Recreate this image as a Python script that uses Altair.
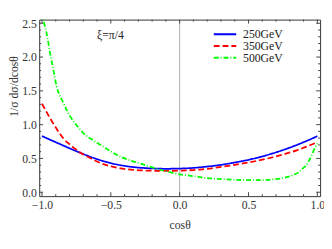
import altair as alt
import pandas as pd

# ---- data ----
series = ["250GeV", "350GeV", "500GeV"]
colors = ["#0000ff", "#ff0000", "#00ff00"]
dashes = [[1, 0], [6, 3], [5, 2, 1, 2]]

x_250 = [-1.0, -0.9, -0.8, -0.7, -0.6, -0.5, -0.4, -0.3, -0.2, -0.1, 0.0,
         0.1, 0.2, 0.3, 0.4, 0.5, 0.6, 0.7, 0.8, 0.9, 1.0]
y_250 = [0.83, 0.74, 0.65, 0.565, 0.49, 0.43, 0.39, 0.365, 0.352, 0.347, 0.35,
         0.36, 0.38, 0.405, 0.44, 0.48, 0.53, 0.59, 0.66, 0.74, 0.83]

x_350 = [-1.0, -0.97, -0.94, -0.894, -0.846, -0.8, -0.75, -0.7, -0.63, -0.56,
         -0.49, -0.418, -0.33, -0.23, -0.12, 0.0, 0.15, 0.35, 0.5, 0.7, 0.85, 1.0]
y_350 = [1.31, 1.20, 1.09, 0.94, 0.80, 0.71, 0.63, 0.56, 0.485, 0.42,
         0.38, 0.35, 0.33, 0.32, 0.315, 0.32, 0.335, 0.39, 0.44, 0.53, 0.62, 0.74]

x_500 = [-1.0, -0.993, -0.965, -0.94, -0.917, -0.894, -0.846, -0.8, -0.728, -0.7,
         -0.63, -0.56, -0.49, -0.418, -0.35, -0.277, -0.218, -0.1, 0.0, 0.113,
         0.2, 0.35, 0.5, 0.6, 0.68, 0.75, 0.82, 0.86, 0.894, 0.92, 0.94, 0.96,
         0.976, 1.0]
y_500 = [2.66, 2.58, 2.34, 2.05, 1.81, 1.57, 1.33, 1.14, 0.94, 0.875,
         0.77, 0.68, 0.59, 0.515, 0.465, 0.42, 0.38, 0.31, 0.265, 0.235,
         0.21, 0.19, 0.18, 0.18, 0.19, 0.21, 0.25, 0.29, 0.35, 0.40, 0.47, 0.55,
         0.63, 0.72]

x_major = [-1.0, -0.5, 0.0, 0.5, 1.0]
x_minor = [-0.9, -0.8, -0.7, -0.6, -0.4, -0.3, -0.2, -0.1,
           0.1, 0.2, 0.3, 0.4, 0.6, 0.7, 0.8, 0.9]
y_major = [0.0, 0.5, 1.0, 1.5, 2.0, 2.5]
y_minor = [0.1, 0.2, 0.3, 0.4, 0.6, 0.7, 0.8, 0.9, 1.1, 1.2, 1.3, 1.4,
           1.6, 1.7, 1.8, 1.9, 2.1, 2.2, 2.3, 2.4]

annot_x = [-0.503]
annot_y = [2.32]
annot_text = ["ξ=π/4"]

# ---- layout ----
W, H = 288, 181
X_DOM = [-1.02, 1.02]
Y_DOM = [-0.058, 2.554]
FONT = "Liberation Serif"
TXT = "#333333"

rows = []
for name, xs, ys in [(series[0], x_250, y_250), (series[1], x_350, y_350),
                     (series[2], x_500, y_500)]:
    for a, b in zip(xs, ys):
        rows.append({"c": a, "v": b, "s": name})
df = pd.DataFrame(rows)

xscale = alt.Scale(domain=X_DOM, nice=False, zero=False)
yscale = alt.Scale(domain=Y_DOM, nice=False, zero=False)

xaxis = alt.Axis(values=x_major, format=".1f", ticks=False, domain=False,
                 grid=False, labelFont=FONT, labelFontSize=12,
                 labelColor=TXT, labelPadding=4, labelFlush=False,
                 labelOverlap=False, title="cosθ", titleFont=FONT,
                 titleFontSize=12, titleFontWeight="normal",
                 titleColor=TXT, titleX=W / 2, titleY=29,
                 titleAlign="center", titleBaseline="middle")
yaxis = alt.Axis(values=y_major, format=".1f", ticks=False, domain=False,
                 grid=False, labelFont=FONT, labelFontSize=12,
                 labelColor=TXT, labelPadding=3, labelFlush=False,
                 labelOverlap=False, title="1/σ dσ/dcosθ",
                 titleFont=FONT, titleFontSize=12,
                 titleFontWeight="normal", titleColor=TXT,
                 titleX=-26, titleY=68, titleAngle=270,
                 titleAlign="center", titleBaseline="middle")

legend = alt.Legend(title=None, orient="none", legendX=178, legendY=10,
                    symbolType="stroke", symbolSize=529, symbolStrokeWidth=2,
                    labelFont=FONT, labelFontSize=12, labelColor="#222222",
                    labelOffset=6, clipHeight=10, rowPadding=0, padding=0)


def X(field):
    return alt.X(field, scale=xscale, axis=xaxis, title="cosθ")


def Y(field):
    return alt.Y(field, scale=yscale, axis=yaxis, title="1/σ dσ/dcosθ")


lines = alt.Chart(df).mark_line(clip=True, strokeWidth=1.8, interpolate="monotone").encode(
    x=X("c:Q"),
    y=Y("v:Q"),
    color=alt.Color("s:N", scale=alt.Scale(domain=series, range=colors), legend=legend),
    strokeDash=alt.StrokeDash("s:N", scale=alt.Scale(domain=series, range=dashes),
                              legend=legend),
)

vline = alt.Chart(pd.DataFrame({"c": [0.0]})).mark_rule(
    color="#999999", strokeWidth=0.8).encode(x=X("c:Q"))


def xticks(vals, length, top):
    d = pd.DataFrame({"c": vals})
    if top:
        yy, yy2 = alt.value(0), alt.value(length)
    else:
        yy, yy2 = alt.value(H), alt.value(H - length)
    return alt.Chart(d).mark_rule(color="#444444", strokeWidth=1).encode(
        x=X("c:Q"), y=yy, y2=yy2)


def yticks(vals, length, right):
    d = pd.DataFrame({"v": vals})
    if right:
        xx, xx2 = alt.value(W), alt.value(W - length)
    else:
        xx, xx2 = alt.value(0), alt.value(length)
    return alt.Chart(d).mark_rule(color="#444444", strokeWidth=1).encode(
        y=Y("v:Q"), x=xx, x2=xx2)


ticks = [
    xticks(x_major, 4, False), xticks(x_minor, 2, False),
    xticks(x_major, 4, True), xticks(x_minor, 2, True),
    yticks(y_major, 4, False), yticks(y_minor, 2, False),
    yticks(y_major, 4, True), yticks(y_minor, 2, True),
]

annot = alt.Chart(pd.DataFrame({"c": annot_x, "v": annot_y, "t": annot_text})).mark_text(
    font=FONT, fontSize=12, color="#222222").encode(
    x=X("c:Q"), y=Y("v:Q"), text="t:N")

chart = alt.layer(vline, *ticks, lines, annot).properties(
    width=W, height=H,
    autosize=alt.AutoSizeParams(type="none"),
    padding={"left": 32, "top": 9, "right": 4, "bottom": 40},
).configure_view(stroke="#333333", strokeWidth=1)

chart.save("out.html", embed_options={"renderer": "svg", "actions": False})
